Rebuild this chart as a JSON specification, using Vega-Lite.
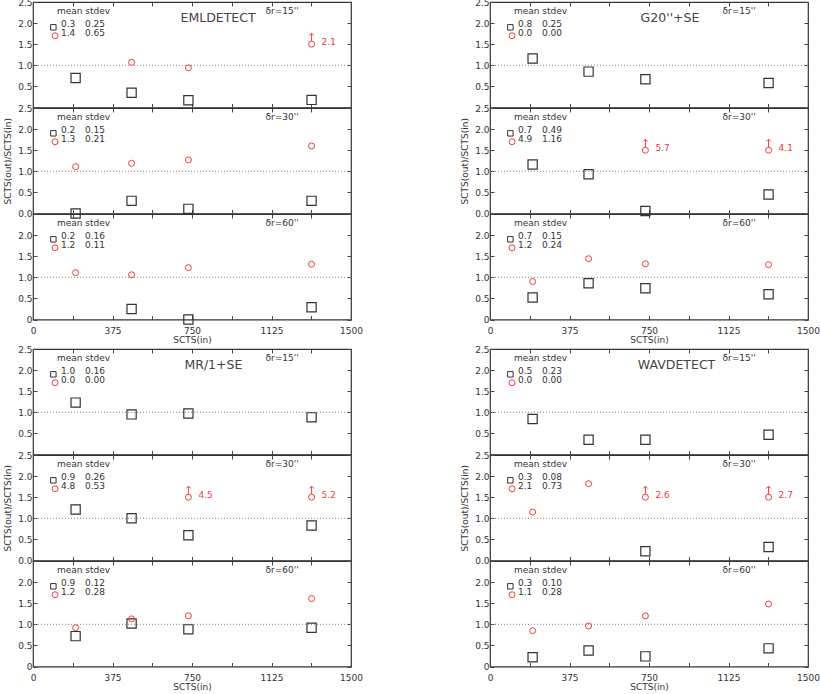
{
"$schema":"https://vega.github.io/schema/vega-lite/v6.json",
"padding":{"left":3,"top":-3,"right":0,"bottom":0},
"config":{
 "font":"DejaVu Sans",
 "view":{"stroke":"#333","strokeWidth":1.2},
 "axis":{"grid":false,"domain":false,"labelFont":"DejaVu Sans","labelFontSize":9,"labelColor":"#333","titleFont":"DejaVu Sans","titleFontSize":9,"titleFontWeight":"normal","titleColor":"#333","tickColor":"#444","labelFlush":false,"labelOverlap":false,"labelBound":false},
 "text":{"font":"DejaVu Sans","fontSize":9,"color":"#333"}
},
"datasets":{"d":[
{"m":"EML","dr":15,"k":"sq","x":201,"y":0.70},{"m":"EML","dr":15,"k":"sq","x":465,"y":0.35},{"m":"EML","dr":15,"k":"sq","x":733,"y":0.17},{"m":"EML","dr":15,"k":"sq","x":1314,"y":0.18},
{"m":"EML","dr":15,"k":"ci","x":465,"y":1.07},{"m":"EML","dr":15,"k":"ci","x":733,"y":0.94},{"m":"EML","dr":15,"k":"up","x":1314,"y":1.5,"t":"2.1"},
{"m":"EML","dr":15,"k":"leg","s":"sq","mean":"0.3","sd":"0.25"},{"m":"EML","dr":15,"k":"leg","s":"ci","mean":"1.4","sd":"0.65"},
{"m":"EML","dr":30,"k":"sq","x":201,"y":0.0},{"m":"EML","dr":30,"k":"sq","x":465,"y":0.30},{"m":"EML","dr":30,"k":"sq","x":733,"y":0.11},{"m":"EML","dr":30,"k":"sq","x":1314,"y":0.30},
{"m":"EML","dr":30,"k":"ci","x":201,"y":1.11},{"m":"EML","dr":30,"k":"ci","x":465,"y":1.19},{"m":"EML","dr":30,"k":"ci","x":733,"y":1.27},{"m":"EML","dr":30,"k":"ci","x":1314,"y":1.60},
{"m":"EML","dr":30,"k":"leg","s":"sq","mean":"0.2","sd":"0.15"},{"m":"EML","dr":30,"k":"leg","s":"ci","mean":"1.3","sd":"0.21"},
{"m":"EML","dr":60,"k":"sq","x":465,"y":0.25},{"m":"EML","dr":60,"k":"sq","x":733,"y":0.0},{"m":"EML","dr":60,"k":"sq","x":1314,"y":0.29},
{"m":"EML","dr":60,"k":"ci","x":201,"y":1.11},{"m":"EML","dr":60,"k":"ci","x":465,"y":1.06},{"m":"EML","dr":60,"k":"ci","x":733,"y":1.23},{"m":"EML","dr":60,"k":"ci","x":1314,"y":1.31},
{"m":"EML","dr":60,"k":"leg","s":"sq","mean":"0.2","sd":"0.16"},{"m":"EML","dr":60,"k":"leg","s":"ci","mean":"1.2","sd":"0.11"},
{"m":"G20","dr":15,"k":"sq","x":201,"y":1.16},{"m":"G20","dr":15,"k":"sq","x":465,"y":0.85},{"m":"G20","dr":15,"k":"sq","x":733,"y":0.67},{"m":"G20","dr":15,"k":"sq","x":1314,"y":0.58},
{"m":"G20","dr":15,"k":"leg","s":"sq","mean":"0.8","sd":"0.25"},{"m":"G20","dr":15,"k":"leg","s":"ci","mean":"0.0","sd":"0.00"},
{"m":"G20","dr":30,"k":"sq","x":201,"y":1.16},{"m":"G20","dr":30,"k":"sq","x":465,"y":0.93},{"m":"G20","dr":30,"k":"sq","x":733,"y":0.06},{"m":"G20","dr":30,"k":"sq","x":1314,"y":0.45},
{"m":"G20","dr":30,"k":"up","x":733,"y":1.5,"t":"5.7"},{"m":"G20","dr":30,"k":"up","x":1314,"y":1.5,"t":"4.1"},
{"m":"G20","dr":30,"k":"leg","s":"sq","mean":"0.7","sd":"0.49"},{"m":"G20","dr":30,"k":"leg","s":"ci","mean":"4.9","sd":"1.16"},
{"m":"G20","dr":60,"k":"sq","x":201,"y":0.52},{"m":"G20","dr":60,"k":"sq","x":465,"y":0.86},{"m":"G20","dr":60,"k":"sq","x":733,"y":0.74},{"m":"G20","dr":60,"k":"sq","x":1314,"y":0.60},
{"m":"G20","dr":60,"k":"ci","x":201,"y":0.90},{"m":"G20","dr":60,"k":"ci","x":465,"y":1.44},{"m":"G20","dr":60,"k":"ci","x":733,"y":1.32},{"m":"G20","dr":60,"k":"ci","x":1314,"y":1.30},
{"m":"G20","dr":60,"k":"leg","s":"sq","mean":"0.7","sd":"0.15"},{"m":"G20","dr":60,"k":"leg","s":"ci","mean":"1.2","sd":"0.24"},
{"m":"MR","dr":15,"k":"sq","x":201,"y":1.23},{"m":"MR","dr":15,"k":"sq","x":465,"y":0.95},{"m":"MR","dr":15,"k":"sq","x":733,"y":0.97},{"m":"MR","dr":15,"k":"sq","x":1314,"y":0.88},
{"m":"MR","dr":15,"k":"leg","s":"sq","mean":"1.0","sd":"0.16"},{"m":"MR","dr":15,"k":"leg","s":"ci","mean":"0.0","sd":"0.00"},
{"m":"MR","dr":30,"k":"sq","x":201,"y":1.21},{"m":"MR","dr":30,"k":"sq","x":465,"y":1.0},{"m":"MR","dr":30,"k":"sq","x":733,"y":0.60},{"m":"MR","dr":30,"k":"sq","x":1314,"y":0.83},
{"m":"MR","dr":30,"k":"up","x":733,"y":1.5,"t":"4.5"},{"m":"MR","dr":30,"k":"up","x":1314,"y":1.5,"t":"5.2"},
{"m":"MR","dr":30,"k":"leg","s":"sq","mean":"0.9","sd":"0.26"},{"m":"MR","dr":30,"k":"leg","s":"ci","mean":"4.8","sd":"0.53"},
{"m":"MR","dr":60,"k":"sq","x":201,"y":0.72},{"m":"MR","dr":60,"k":"sq","x":465,"y":1.02},{"m":"MR","dr":60,"k":"sq","x":733,"y":0.88},{"m":"MR","dr":60,"k":"sq","x":1314,"y":0.92},
{"m":"MR","dr":60,"k":"ci","x":201,"y":0.92},{"m":"MR","dr":60,"k":"ci","x":465,"y":1.13},{"m":"MR","dr":60,"k":"ci","x":733,"y":1.20},{"m":"MR","dr":60,"k":"ci","x":1314,"y":1.61},
{"m":"MR","dr":60,"k":"leg","s":"sq","mean":"0.9","sd":"0.12"},{"m":"MR","dr":60,"k":"leg","s":"ci","mean":"1.2","sd":"0.28"},
{"m":"WAV","dr":15,"k":"sq","x":201,"y":0.84},{"m":"WAV","dr":15,"k":"sq","x":465,"y":0.35},{"m":"WAV","dr":15,"k":"sq","x":733,"y":0.35},{"m":"WAV","dr":15,"k":"sq","x":1314,"y":0.47},
{"m":"WAV","dr":15,"k":"leg","s":"sq","mean":"0.5","sd":"0.23"},{"m":"WAV","dr":15,"k":"leg","s":"ci","mean":"0.0","sd":"0.00"},
{"m":"WAV","dr":30,"k":"sq","x":733,"y":0.22},{"m":"WAV","dr":30,"k":"sq","x":1314,"y":0.32},
{"m":"WAV","dr":30,"k":"ci","x":201,"y":1.15},{"m":"WAV","dr":30,"k":"ci","x":465,"y":1.82},
{"m":"WAV","dr":30,"k":"up","x":733,"y":1.5,"t":"2.6"},{"m":"WAV","dr":30,"k":"up","x":1314,"y":1.5,"t":"2.7"},
{"m":"WAV","dr":30,"k":"leg","s":"sq","mean":"0.3","sd":"0.08"},{"m":"WAV","dr":30,"k":"leg","s":"ci","mean":"2.1","sd":"0.73"},
{"m":"WAV","dr":60,"k":"sq","x":201,"y":0.22},{"m":"WAV","dr":60,"k":"sq","x":465,"y":0.38},{"m":"WAV","dr":60,"k":"sq","x":733,"y":0.24},{"m":"WAV","dr":60,"k":"sq","x":1314,"y":0.43},
{"m":"WAV","dr":60,"k":"ci","x":201,"y":0.85},{"m":"WAV","dr":60,"k":"ci","x":465,"y":0.96},{"m":"WAV","dr":60,"k":"ci","x":733,"y":1.20},{"m":"WAV","dr":60,"k":"ci","x":1314,"y":1.48},
{"m":"WAV","dr":60,"k":"leg","s":"sq","mean":"0.3","sd":"0.10"},{"m":"WAV","dr":60,"k":"leg","s":"ci","mean":"1.1","sd":"0.28"}
]},
"data":{"name":"d"},
"spacing":-2,
"vconcat":[
{"spacing":96,"hconcat":[
 {"spacing":0,"bounds":"flush","vconcat":[
  {"width":318,"height":105.5,"transform":[{"filter":"datum.m=='EML' && datum.dr==15"}],"layer":[
   {"transform":[{"filter":"datum.k=='leg' && datum.s=='sq'"}],"mark":{"type":"rule","color":"#888","strokeDash":[1,2],"strokeWidth":1},"encoding":{"y":{"datum":1,"axis":null}}},
   {"transform":[{"filter":"datum.k=='sq'"}],"mark":{"type":"point","shape":"square","size":85,"filled":false,"color":"#333","strokeWidth":1.2,"opacity":1},"encoding":{
     "x":{"field":"x","type":"quantitative","scale":{"domain":[0,1500],"nice":false,"zero":false},"axis":{"orient":"bottom","values":[0,187.5,375,562.5,750,937.5,1125,1312.5,1500],"labels":false,"tickSize":-4,"title":null}},
     "y":{"field":"y","type":"quantitative","scale":{"domain":[0,2.5],"nice":false,"zero":false},"axis":{"orient":"left","values":[0,0.5,1,1.5,2,2.5],"labelExpr":"datum.value==0?'':format(datum.value,'.1f')","tickSize":-4,"labelPadding":5,"title":null}}}},
   {"transform":[{"filter":"datum.k=='ci' || datum.k=='up'"}],"mark":{"type":"point","shape":"circle","size":36,"filled":false,"color":"#f03c3c","strokeWidth":1,"opacity":1},"encoding":{
     "x":{"field":"x","type":"quantitative","axis":{"orient":"top","values":[0,187.5,375,562.5,750,937.5,1125,1312.5,1500],"labels":false,"tickSize":-4,"title":null}},
     "y":{"field":"y","type":"quantitative","axis":{"orient":"right","values":[0,0.5,1,1.5,2,2.5],"labels":false,"tickSize":-4,"title":null}}}},
   {"transform":[{"filter":"datum.k=='up'"}],"mark":{"type":"point","shape":"M0,1L0,-1M-0.55,-0.45L0,-1L0.55,-0.45","size":64,"filled":false,"color":"#f03c3c","strokeWidth":1,"opacity":1,"yOffset":-7},"encoding":{"x":{"field":"x","type":"quantitative","axis":null},"y":{"field":"y","type":"quantitative","axis":null}}},
   {"transform":[{"filter":"datum.k=='up'"}],"mark":{"type":"text","align":"left","dx":10,"dy":-2,"color":"#f03c3c"},"encoding":{"x":{"field":"x","type":"quantitative","axis":null},"y":{"field":"y","type":"quantitative","axis":null},"text":{"field":"t"}}},
   {"transform":[{"filter":"datum.k=='leg' && datum.s=='sq'"}],"layer":[
     {"mark":{"type":"point","shape":"square","size":30,"filled":false,"color":"#333","strokeWidth":1,"opacity":1},"encoding":{"x":{"datum":96,"axis":null},"y":{"datum":1.9,"axis":null}}},
     {"mark":{"type":"text","align":"left"},"encoding":{"x":{"datum":132,"axis":null},"y":{"datum":1.98,"axis":null},"text":{"field":"mean"}}},
     {"mark":{"type":"text","align":"left"},"encoding":{"x":{"datum":245,"axis":null},"y":{"datum":1.98,"axis":null},"text":{"field":"sd"}}},
     {"mark":{"type":"text","align":"left"},"encoding":{"x":{"datum":113,"axis":null},"y":{"datum":2.28,"axis":null},"text":{"value":"mean stdev"}}},
     {"mark":{"type":"text","align":"center"},"encoding":{"x":{"datum":1175,"axis":null},"y":{"datum":2.28,"axis":null},"text":{"value":"δr=15''"}}},
     {"mark":{"type":"text","align":"center","fontSize":12.5,"color":"#444"},"encoding":{"x":{"datum":873,"axis":null},"y":{"datum":2.12,"axis":null},"text":{"value":"EMLDETECT"}}}
   ]},
   {"transform":[{"filter":"datum.k=='leg' && datum.s=='ci'"}],"layer":[
     {"mark":{"type":"point","shape":"circle","size":36,"filled":false,"color":"#f03c3c","strokeWidth":1,"opacity":1},"encoding":{"x":{"datum":104,"axis":null},"y":{"datum":1.7,"axis":null}}},
     {"mark":{"type":"text","align":"left"},"encoding":{"x":{"datum":132,"axis":null},"y":{"datum":1.77,"axis":null},"text":{"field":"mean"}}},
     {"mark":{"type":"text","align":"left"},"encoding":{"x":{"datum":245,"axis":null},"y":{"datum":1.77,"axis":null},"text":{"field":"sd"}}}
   ]}
  ]},
  {"width":318,"height":105.5,"transform":[{"filter":"datum.m=='EML' && datum.dr==30"}],"layer":[
   {"transform":[{"filter":"datum.k=='leg' && datum.s=='sq'"}],"mark":{"type":"rule","color":"#888","strokeDash":[1,2],"strokeWidth":1},"encoding":{"y":{"datum":1,"axis":null}}},
   {"transform":[{"filter":"datum.k=='sq'"}],"mark":{"type":"point","shape":"square","size":85,"filled":false,"color":"#333","strokeWidth":1.2,"opacity":1},"encoding":{
     "x":{"field":"x","type":"quantitative","scale":{"domain":[0,1500],"nice":false,"zero":false},"axis":{"orient":"bottom","values":[0,187.5,375,562.5,750,937.5,1125,1312.5,1500],"labels":false,"tickSize":-4,"title":null}},
     "y":{"field":"y","type":"quantitative","scale":{"domain":[0,2.5],"nice":false,"zero":false},"axis":{"orient":"left","values":[0,0.5,1,1.5,2,2.5],"labelExpr":"format(datum.value,'.1f')","tickSize":-4,"labelPadding":5,"title":"SCTS(out)/SCTS(in)","titlePadding":5}}}},
   {"transform":[{"filter":"datum.k=='ci' || datum.k=='up'"}],"mark":{"type":"point","shape":"circle","size":36,"filled":false,"color":"#f03c3c","strokeWidth":1,"opacity":1},"encoding":{
     "x":{"field":"x","type":"quantitative","axis":{"orient":"top","values":[0,187.5,375,562.5,750,937.5,1125,1312.5,1500],"labels":false,"tickSize":-4,"title":null}},
     "y":{"field":"y","type":"quantitative","axis":{"orient":"right","values":[0,0.5,1,1.5,2,2.5],"labels":false,"tickSize":-4,"title":null}}}},
   {"transform":[{"filter":"datum.k=='up'"}],"mark":{"type":"point","shape":"M0,1L0,-1M-0.55,-0.45L0,-1L0.55,-0.45","size":64,"filled":false,"color":"#f03c3c","strokeWidth":1,"opacity":1,"yOffset":-7},"encoding":{"x":{"field":"x","type":"quantitative","axis":null},"y":{"field":"y","type":"quantitative","axis":null}}},
   {"transform":[{"filter":"datum.k=='up'"}],"mark":{"type":"text","align":"left","dx":10,"dy":-2,"color":"#f03c3c"},"encoding":{"x":{"field":"x","type":"quantitative","axis":null},"y":{"field":"y","type":"quantitative","axis":null},"text":{"field":"t"}}},
   {"transform":[{"filter":"datum.k=='leg' && datum.s=='sq'"}],"layer":[
     {"mark":{"type":"point","shape":"square","size":30,"filled":false,"color":"#333","strokeWidth":1,"opacity":1},"encoding":{"x":{"datum":96,"axis":null},"y":{"datum":1.9,"axis":null}}},
     {"mark":{"type":"text","align":"left"},"encoding":{"x":{"datum":132,"axis":null},"y":{"datum":1.98,"axis":null},"text":{"field":"mean"}}},
     {"mark":{"type":"text","align":"left"},"encoding":{"x":{"datum":245,"axis":null},"y":{"datum":1.98,"axis":null},"text":{"field":"sd"}}},
     {"mark":{"type":"text","align":"left"},"encoding":{"x":{"datum":113,"axis":null},"y":{"datum":2.28,"axis":null},"text":{"value":"mean stdev"}}},
     {"mark":{"type":"text","align":"center"},"encoding":{"x":{"datum":1175,"axis":null},"y":{"datum":2.28,"axis":null},"text":{"value":"δr=30''"}}}
   ]},
   {"transform":[{"filter":"datum.k=='leg' && datum.s=='ci'"}],"layer":[
     {"mark":{"type":"point","shape":"circle","size":36,"filled":false,"color":"#f03c3c","strokeWidth":1,"opacity":1},"encoding":{"x":{"datum":104,"axis":null},"y":{"datum":1.7,"axis":null}}},
     {"mark":{"type":"text","align":"left"},"encoding":{"x":{"datum":132,"axis":null},"y":{"datum":1.77,"axis":null},"text":{"field":"mean"}}},
     {"mark":{"type":"text","align":"left"},"encoding":{"x":{"datum":245,"axis":null},"y":{"datum":1.77,"axis":null},"text":{"field":"sd"}}}
   ]}
  ]},
  {"width":318,"height":105.5,"transform":[{"filter":"datum.m=='EML' && datum.dr==60"}],"layer":[
   {"transform":[{"filter":"datum.k=='leg' && datum.s=='sq'"}],"mark":{"type":"rule","color":"#888","strokeDash":[1,2],"strokeWidth":1},"encoding":{"y":{"datum":1,"axis":null}}},
   {"transform":[{"filter":"datum.k=='sq'"}],"mark":{"type":"point","shape":"square","size":85,"filled":false,"color":"#333","strokeWidth":1.2,"opacity":1},"encoding":{
     "x":{"field":"x","type":"quantitative","scale":{"domain":[0,1500],"nice":false,"zero":false},"axis":{"orient":"bottom","values":[0,187.5,375,562.5,750,937.5,1125,1312.5,1500],"labelExpr":"datum.value % 375 == 0 ? format(datum.value,'d') : ''","tickSize":-4,"labelPadding":11,"title":"SCTS(in)","titlePadding":0}},
     "y":{"field":"y","type":"quantitative","scale":{"domain":[0,2.5],"nice":false,"zero":false},"axis":{"orient":"left","values":[0,0.5,1,1.5,2,2.5],"labelExpr":"datum.value==2.5?'':datum.value==0?'0':format(datum.value,'.1f')","tickSize":-4,"labelPadding":5,"title":null}}}},
   {"transform":[{"filter":"datum.k=='ci' || datum.k=='up'"}],"mark":{"type":"point","shape":"circle","size":36,"filled":false,"color":"#f03c3c","strokeWidth":1,"opacity":1},"encoding":{
     "x":{"field":"x","type":"quantitative","axis":{"orient":"top","values":[0,187.5,375,562.5,750,937.5,1125,1312.5,1500],"labels":false,"tickSize":-4,"title":null}},
     "y":{"field":"y","type":"quantitative","axis":{"orient":"right","values":[0,0.5,1,1.5,2,2.5],"labels":false,"tickSize":-4,"title":null}}}},
   {"transform":[{"filter":"datum.k=='leg' && datum.s=='sq'"}],"layer":[
     {"mark":{"type":"point","shape":"square","size":30,"filled":false,"color":"#333","strokeWidth":1,"opacity":1},"encoding":{"x":{"datum":96,"axis":null},"y":{"datum":1.9,"axis":null}}},
     {"mark":{"type":"text","align":"left"},"encoding":{"x":{"datum":132,"axis":null},"y":{"datum":1.98,"axis":null},"text":{"field":"mean"}}},
     {"mark":{"type":"text","align":"left"},"encoding":{"x":{"datum":245,"axis":null},"y":{"datum":1.98,"axis":null},"text":{"field":"sd"}}},
     {"mark":{"type":"text","align":"left"},"encoding":{"x":{"datum":113,"axis":null},"y":{"datum":2.28,"axis":null},"text":{"value":"mean stdev"}}},
     {"mark":{"type":"text","align":"center"},"encoding":{"x":{"datum":1175,"axis":null},"y":{"datum":2.28,"axis":null},"text":{"value":"δr=60''"}}}
   ]},
   {"transform":[{"filter":"datum.k=='leg' && datum.s=='ci'"}],"layer":[
     {"mark":{"type":"point","shape":"circle","size":36,"filled":false,"color":"#f03c3c","strokeWidth":1,"opacity":1},"encoding":{"x":{"datum":104,"axis":null},"y":{"datum":1.7,"axis":null}}},
     {"mark":{"type":"text","align":"left"},"encoding":{"x":{"datum":132,"axis":null},"y":{"datum":1.77,"axis":null},"text":{"field":"mean"}}},
     {"mark":{"type":"text","align":"left"},"encoding":{"x":{"datum":245,"axis":null},"y":{"datum":1.77,"axis":null},"text":{"field":"sd"}}}
   ]}
  ]}
 ]},
 {"spacing":0,"bounds":"flush","vconcat":[
  {"width":318,"height":105.5,"transform":[{"filter":"datum.m=='G20' && datum.dr==15"}],"layer":[
   {"transform":[{"filter":"datum.k=='leg' && datum.s=='sq'"}],"mark":{"type":"rule","color":"#888","strokeDash":[1,2],"strokeWidth":1},"encoding":{"y":{"datum":1,"axis":null}}},
   {"transform":[{"filter":"datum.k=='sq'"}],"mark":{"type":"point","shape":"square","size":85,"filled":false,"color":"#333","strokeWidth":1.2,"opacity":1},"encoding":{
     "x":{"field":"x","type":"quantitative","scale":{"domain":[0,1500],"nice":false,"zero":false},"axis":{"orient":"bottom","values":[0,187.5,375,562.5,750,937.5,1125,1312.5,1500],"labels":false,"tickSize":-4,"title":null}},
     "y":{"field":"y","type":"quantitative","scale":{"domain":[0,2.5],"nice":false,"zero":false},"axis":{"orient":"left","values":[0,0.5,1,1.5,2,2.5],"labelExpr":"datum.value==0?'':format(datum.value,'.1f')","tickSize":-4,"labelPadding":5,"title":null}}}},
   {"transform":[{"filter":"datum.k=='ci' || datum.k=='up'"}],"mark":{"type":"point","shape":"circle","size":36,"filled":false,"color":"#f03c3c","strokeWidth":1,"opacity":1},"encoding":{
     "x":{"field":"x","type":"quantitative","axis":{"orient":"top","values":[0,187.5,375,562.5,750,937.5,1125,1312.5,1500],"labels":false,"tickSize":-4,"title":null}},
     "y":{"field":"y","type":"quantitative","axis":{"orient":"right","values":[0,0.5,1,1.5,2,2.5],"labels":false,"tickSize":-4,"title":null}}}},
   {"transform":[{"filter":"datum.k=='leg' && datum.s=='sq'"}],"layer":[
     {"mark":{"type":"point","shape":"square","size":30,"filled":false,"color":"#333","strokeWidth":1,"opacity":1},"encoding":{"x":{"datum":96,"axis":null},"y":{"datum":1.9,"axis":null}}},
     {"mark":{"type":"text","align":"left"},"encoding":{"x":{"datum":132,"axis":null},"y":{"datum":1.98,"axis":null},"text":{"field":"mean"}}},
     {"mark":{"type":"text","align":"left"},"encoding":{"x":{"datum":245,"axis":null},"y":{"datum":1.98,"axis":null},"text":{"field":"sd"}}},
     {"mark":{"type":"text","align":"left"},"encoding":{"x":{"datum":113,"axis":null},"y":{"datum":2.28,"axis":null},"text":{"value":"mean stdev"}}},
     {"mark":{"type":"text","align":"center"},"encoding":{"x":{"datum":1175,"axis":null},"y":{"datum":2.28,"axis":null},"text":{"value":"δr=15''"}}},
     {"mark":{"type":"text","align":"center","fontSize":12.5,"color":"#444"},"encoding":{"x":{"datum":849,"axis":null},"y":{"datum":2.12,"axis":null},"text":{"value":"G20''+SE"}}}
   ]},
   {"transform":[{"filter":"datum.k=='leg' && datum.s=='ci'"}],"layer":[
     {"mark":{"type":"point","shape":"circle","size":36,"filled":false,"color":"#f03c3c","strokeWidth":1,"opacity":1},"encoding":{"x":{"datum":104,"axis":null},"y":{"datum":1.7,"axis":null}}},
     {"mark":{"type":"text","align":"left"},"encoding":{"x":{"datum":132,"axis":null},"y":{"datum":1.77,"axis":null},"text":{"field":"mean"}}},
     {"mark":{"type":"text","align":"left"},"encoding":{"x":{"datum":245,"axis":null},"y":{"datum":1.77,"axis":null},"text":{"field":"sd"}}}
   ]}
  ]},
  {"width":318,"height":105.5,"transform":[{"filter":"datum.m=='G20' && datum.dr==30"}],"layer":[
   {"transform":[{"filter":"datum.k=='leg' && datum.s=='sq'"}],"mark":{"type":"rule","color":"#888","strokeDash":[1,2],"strokeWidth":1},"encoding":{"y":{"datum":1,"axis":null}}},
   {"transform":[{"filter":"datum.k=='sq'"}],"mark":{"type":"point","shape":"square","size":85,"filled":false,"color":"#333","strokeWidth":1.2,"opacity":1},"encoding":{
     "x":{"field":"x","type":"quantitative","scale":{"domain":[0,1500],"nice":false,"zero":false},"axis":{"orient":"bottom","values":[0,187.5,375,562.5,750,937.5,1125,1312.5,1500],"labels":false,"tickSize":-4,"title":null}},
     "y":{"field":"y","type":"quantitative","scale":{"domain":[0,2.5],"nice":false,"zero":false},"axis":{"orient":"left","values":[0,0.5,1,1.5,2,2.5],"labelExpr":"format(datum.value,'.1f')","tickSize":-4,"labelPadding":5,"title":"SCTS(out)/SCTS(in)","titlePadding":5}}}},
   {"transform":[{"filter":"datum.k=='ci' || datum.k=='up'"}],"mark":{"type":"point","shape":"circle","size":36,"filled":false,"color":"#f03c3c","strokeWidth":1,"opacity":1},"encoding":{
     "x":{"field":"x","type":"quantitative","axis":{"orient":"top","values":[0,187.5,375,562.5,750,937.5,1125,1312.5,1500],"labels":false,"tickSize":-4,"title":null}},
     "y":{"field":"y","type":"quantitative","axis":{"orient":"right","values":[0,0.5,1,1.5,2,2.5],"labels":false,"tickSize":-4,"title":null}}}},
   {"transform":[{"filter":"datum.k=='up'"}],"mark":{"type":"point","shape":"M0,1L0,-1M-0.55,-0.45L0,-1L0.55,-0.45","size":64,"filled":false,"color":"#f03c3c","strokeWidth":1,"opacity":1,"yOffset":-7},"encoding":{"x":{"field":"x","type":"quantitative","axis":null},"y":{"field":"y","type":"quantitative","axis":null}}},
   {"transform":[{"filter":"datum.k=='up'"}],"mark":{"type":"text","align":"left","dx":10,"dy":-2,"color":"#f03c3c"},"encoding":{"x":{"field":"x","type":"quantitative","axis":null},"y":{"field":"y","type":"quantitative","axis":null},"text":{"field":"t"}}},
   {"transform":[{"filter":"datum.k=='leg' && datum.s=='sq'"}],"layer":[
     {"mark":{"type":"point","shape":"square","size":30,"filled":false,"color":"#333","strokeWidth":1,"opacity":1},"encoding":{"x":{"datum":96,"axis":null},"y":{"datum":1.9,"axis":null}}},
     {"mark":{"type":"text","align":"left"},"encoding":{"x":{"datum":132,"axis":null},"y":{"datum":1.98,"axis":null},"text":{"field":"mean"}}},
     {"mark":{"type":"text","align":"left"},"encoding":{"x":{"datum":245,"axis":null},"y":{"datum":1.98,"axis":null},"text":{"field":"sd"}}},
     {"mark":{"type":"text","align":"left"},"encoding":{"x":{"datum":113,"axis":null},"y":{"datum":2.28,"axis":null},"text":{"value":"mean stdev"}}},
     {"mark":{"type":"text","align":"center"},"encoding":{"x":{"datum":1175,"axis":null},"y":{"datum":2.28,"axis":null},"text":{"value":"δr=30''"}}}
   ]},
   {"transform":[{"filter":"datum.k=='leg' && datum.s=='ci'"}],"layer":[
     {"mark":{"type":"point","shape":"circle","size":36,"filled":false,"color":"#f03c3c","strokeWidth":1,"opacity":1},"encoding":{"x":{"datum":104,"axis":null},"y":{"datum":1.7,"axis":null}}},
     {"mark":{"type":"text","align":"left"},"encoding":{"x":{"datum":132,"axis":null},"y":{"datum":1.77,"axis":null},"text":{"field":"mean"}}},
     {"mark":{"type":"text","align":"left"},"encoding":{"x":{"datum":245,"axis":null},"y":{"datum":1.77,"axis":null},"text":{"field":"sd"}}}
   ]}
  ]},
  {"width":318,"height":105.5,"transform":[{"filter":"datum.m=='G20' && datum.dr==60"}],"layer":[
   {"transform":[{"filter":"datum.k=='leg' && datum.s=='sq'"}],"mark":{"type":"rule","color":"#888","strokeDash":[1,2],"strokeWidth":1},"encoding":{"y":{"datum":1,"axis":null}}},
   {"transform":[{"filter":"datum.k=='sq'"}],"mark":{"type":"point","shape":"square","size":85,"filled":false,"color":"#333","strokeWidth":1.2,"opacity":1},"encoding":{
     "x":{"field":"x","type":"quantitative","scale":{"domain":[0,1500],"nice":false,"zero":false},"axis":{"orient":"bottom","values":[0,187.5,375,562.5,750,937.5,1125,1312.5,1500],"labelExpr":"datum.value % 375 == 0 ? format(datum.value,'d') : ''","tickSize":-4,"labelPadding":11,"title":"SCTS(in)","titlePadding":0}},
     "y":{"field":"y","type":"quantitative","scale":{"domain":[0,2.5],"nice":false,"zero":false},"axis":{"orient":"left","values":[0,0.5,1,1.5,2,2.5],"labelExpr":"datum.value==2.5?'':datum.value==0?'0':format(datum.value,'.1f')","tickSize":-4,"labelPadding":5,"title":null}}}},
   {"transform":[{"filter":"datum.k=='ci' || datum.k=='up'"}],"mark":{"type":"point","shape":"circle","size":36,"filled":false,"color":"#f03c3c","strokeWidth":1,"opacity":1},"encoding":{
     "x":{"field":"x","type":"quantitative","axis":{"orient":"top","values":[0,187.5,375,562.5,750,937.5,1125,1312.5,1500],"labels":false,"tickSize":-4,"title":null}},
     "y":{"field":"y","type":"quantitative","axis":{"orient":"right","values":[0,0.5,1,1.5,2,2.5],"labels":false,"tickSize":-4,"title":null}}}},
   {"transform":[{"filter":"datum.k=='leg' && datum.s=='sq'"}],"layer":[
     {"mark":{"type":"point","shape":"square","size":30,"filled":false,"color":"#333","strokeWidth":1,"opacity":1},"encoding":{"x":{"datum":96,"axis":null},"y":{"datum":1.9,"axis":null}}},
     {"mark":{"type":"text","align":"left"},"encoding":{"x":{"datum":132,"axis":null},"y":{"datum":1.98,"axis":null},"text":{"field":"mean"}}},
     {"mark":{"type":"text","align":"left"},"encoding":{"x":{"datum":245,"axis":null},"y":{"datum":1.98,"axis":null},"text":{"field":"sd"}}},
     {"mark":{"type":"text","align":"left"},"encoding":{"x":{"datum":113,"axis":null},"y":{"datum":2.28,"axis":null},"text":{"value":"mean stdev"}}},
     {"mark":{"type":"text","align":"center"},"encoding":{"x":{"datum":1175,"axis":null},"y":{"datum":2.28,"axis":null},"text":{"value":"δr=60''"}}}
   ]},
   {"transform":[{"filter":"datum.k=='leg' && datum.s=='ci'"}],"layer":[
     {"mark":{"type":"point","shape":"circle","size":36,"filled":false,"color":"#f03c3c","strokeWidth":1,"opacity":1},"encoding":{"x":{"datum":104,"axis":null},"y":{"datum":1.7,"axis":null}}},
     {"mark":{"type":"text","align":"left"},"encoding":{"x":{"datum":132,"axis":null},"y":{"datum":1.77,"axis":null},"text":{"field":"mean"}}},
     {"mark":{"type":"text","align":"left"},"encoding":{"x":{"datum":245,"axis":null},"y":{"datum":1.77,"axis":null},"text":{"field":"sd"}}}
   ]}
  ]}
 ]}
]},
{"spacing":96,"hconcat":[
 {"spacing":0,"bounds":"flush","vconcat":[
  {"width":318,"height":105.5,"transform":[{"filter":"datum.m=='MR' && datum.dr==15"}],"layer":[
   {"transform":[{"filter":"datum.k=='leg' && datum.s=='sq'"}],"mark":{"type":"rule","color":"#888","strokeDash":[1,2],"strokeWidth":1},"encoding":{"y":{"datum":1,"axis":null}}},
   {"transform":[{"filter":"datum.k=='sq'"}],"mark":{"type":"point","shape":"square","size":85,"filled":false,"color":"#333","strokeWidth":1.2,"opacity":1},"encoding":{
     "x":{"field":"x","type":"quantitative","scale":{"domain":[0,1500],"nice":false,"zero":false},"axis":{"orient":"bottom","values":[0,187.5,375,562.5,750,937.5,1125,1312.5,1500],"labels":false,"tickSize":-4,"title":null}},
     "y":{"field":"y","type":"quantitative","scale":{"domain":[0,2.5],"nice":false,"zero":false},"axis":{"orient":"left","values":[0,0.5,1,1.5,2,2.5],"labelExpr":"datum.value==0?'':format(datum.value,'.1f')","tickSize":-4,"labelPadding":5,"title":null}}}},
   {"transform":[{"filter":"datum.k=='ci' || datum.k=='up'"}],"mark":{"type":"point","shape":"circle","size":36,"filled":false,"color":"#f03c3c","strokeWidth":1,"opacity":1},"encoding":{
     "x":{"field":"x","type":"quantitative","axis":{"orient":"top","values":[0,187.5,375,562.5,750,937.5,1125,1312.5,1500],"labels":false,"tickSize":-4,"title":null}},
     "y":{"field":"y","type":"quantitative","axis":{"orient":"right","values":[0,0.5,1,1.5,2,2.5],"labels":false,"tickSize":-4,"title":null}}}},
   {"transform":[{"filter":"datum.k=='leg' && datum.s=='sq'"}],"layer":[
     {"mark":{"type":"point","shape":"square","size":30,"filled":false,"color":"#333","strokeWidth":1,"opacity":1},"encoding":{"x":{"datum":96,"axis":null},"y":{"datum":1.9,"axis":null}}},
     {"mark":{"type":"text","align":"left"},"encoding":{"x":{"datum":132,"axis":null},"y":{"datum":1.98,"axis":null},"text":{"field":"mean"}}},
     {"mark":{"type":"text","align":"left"},"encoding":{"x":{"datum":245,"axis":null},"y":{"datum":1.98,"axis":null},"text":{"field":"sd"}}},
     {"mark":{"type":"text","align":"left"},"encoding":{"x":{"datum":113,"axis":null},"y":{"datum":2.28,"axis":null},"text":{"value":"mean stdev"}}},
     {"mark":{"type":"text","align":"center"},"encoding":{"x":{"datum":1175,"axis":null},"y":{"datum":2.28,"axis":null},"text":{"value":"δr=15''"}}},
     {"mark":{"type":"text","align":"center","fontSize":12.5,"color":"#444"},"encoding":{"x":{"datum":851,"axis":null},"y":{"datum":2.12,"axis":null},"text":{"value":"MR/1+SE"}}}
   ]},
   {"transform":[{"filter":"datum.k=='leg' && datum.s=='ci'"}],"layer":[
     {"mark":{"type":"point","shape":"circle","size":36,"filled":false,"color":"#f03c3c","strokeWidth":1,"opacity":1},"encoding":{"x":{"datum":104,"axis":null},"y":{"datum":1.7,"axis":null}}},
     {"mark":{"type":"text","align":"left"},"encoding":{"x":{"datum":132,"axis":null},"y":{"datum":1.77,"axis":null},"text":{"field":"mean"}}},
     {"mark":{"type":"text","align":"left"},"encoding":{"x":{"datum":245,"axis":null},"y":{"datum":1.77,"axis":null},"text":{"field":"sd"}}}
   ]}
  ]},
  {"width":318,"height":105.5,"transform":[{"filter":"datum.m=='MR' && datum.dr==30"}],"layer":[
   {"transform":[{"filter":"datum.k=='leg' && datum.s=='sq'"}],"mark":{"type":"rule","color":"#888","strokeDash":[1,2],"strokeWidth":1},"encoding":{"y":{"datum":1,"axis":null}}},
   {"transform":[{"filter":"datum.k=='sq'"}],"mark":{"type":"point","shape":"square","size":85,"filled":false,"color":"#333","strokeWidth":1.2,"opacity":1},"encoding":{
     "x":{"field":"x","type":"quantitative","scale":{"domain":[0,1500],"nice":false,"zero":false},"axis":{"orient":"bottom","values":[0,187.5,375,562.5,750,937.5,1125,1312.5,1500],"labels":false,"tickSize":-4,"title":null}},
     "y":{"field":"y","type":"quantitative","scale":{"domain":[0,2.5],"nice":false,"zero":false},"axis":{"orient":"left","values":[0,0.5,1,1.5,2,2.5],"labelExpr":"format(datum.value,'.1f')","tickSize":-4,"labelPadding":5,"title":"SCTS(out)/SCTS(in)","titlePadding":5}}}},
   {"transform":[{"filter":"datum.k=='ci' || datum.k=='up'"}],"mark":{"type":"point","shape":"circle","size":36,"filled":false,"color":"#f03c3c","strokeWidth":1,"opacity":1},"encoding":{
     "x":{"field":"x","type":"quantitative","axis":{"orient":"top","values":[0,187.5,375,562.5,750,937.5,1125,1312.5,1500],"labels":false,"tickSize":-4,"title":null}},
     "y":{"field":"y","type":"quantitative","axis":{"orient":"right","values":[0,0.5,1,1.5,2,2.5],"labels":false,"tickSize":-4,"title":null}}}},
   {"transform":[{"filter":"datum.k=='up'"}],"mark":{"type":"point","shape":"M0,1L0,-1M-0.55,-0.45L0,-1L0.55,-0.45","size":64,"filled":false,"color":"#f03c3c","strokeWidth":1,"opacity":1,"yOffset":-7},"encoding":{"x":{"field":"x","type":"quantitative","axis":null},"y":{"field":"y","type":"quantitative","axis":null}}},
   {"transform":[{"filter":"datum.k=='up'"}],"mark":{"type":"text","align":"left","dx":10,"dy":-2,"color":"#f03c3c"},"encoding":{"x":{"field":"x","type":"quantitative","axis":null},"y":{"field":"y","type":"quantitative","axis":null},"text":{"field":"t"}}},
   {"transform":[{"filter":"datum.k=='leg' && datum.s=='sq'"}],"layer":[
     {"mark":{"type":"point","shape":"square","size":30,"filled":false,"color":"#333","strokeWidth":1,"opacity":1},"encoding":{"x":{"datum":96,"axis":null},"y":{"datum":1.9,"axis":null}}},
     {"mark":{"type":"text","align":"left"},"encoding":{"x":{"datum":132,"axis":null},"y":{"datum":1.98,"axis":null},"text":{"field":"mean"}}},
     {"mark":{"type":"text","align":"left"},"encoding":{"x":{"datum":245,"axis":null},"y":{"datum":1.98,"axis":null},"text":{"field":"sd"}}},
     {"mark":{"type":"text","align":"left"},"encoding":{"x":{"datum":113,"axis":null},"y":{"datum":2.28,"axis":null},"text":{"value":"mean stdev"}}},
     {"mark":{"type":"text","align":"center"},"encoding":{"x":{"datum":1175,"axis":null},"y":{"datum":2.28,"axis":null},"text":{"value":"δr=30''"}}}
   ]},
   {"transform":[{"filter":"datum.k=='leg' && datum.s=='ci'"}],"layer":[
     {"mark":{"type":"point","shape":"circle","size":36,"filled":false,"color":"#f03c3c","strokeWidth":1,"opacity":1},"encoding":{"x":{"datum":104,"axis":null},"y":{"datum":1.7,"axis":null}}},
     {"mark":{"type":"text","align":"left"},"encoding":{"x":{"datum":132,"axis":null},"y":{"datum":1.77,"axis":null},"text":{"field":"mean"}}},
     {"mark":{"type":"text","align":"left"},"encoding":{"x":{"datum":245,"axis":null},"y":{"datum":1.77,"axis":null},"text":{"field":"sd"}}}
   ]}
  ]},
  {"width":318,"height":105.5,"transform":[{"filter":"datum.m=='MR' && datum.dr==60"}],"layer":[
   {"transform":[{"filter":"datum.k=='leg' && datum.s=='sq'"}],"mark":{"type":"rule","color":"#888","strokeDash":[1,2],"strokeWidth":1},"encoding":{"y":{"datum":1,"axis":null}}},
   {"transform":[{"filter":"datum.k=='sq'"}],"mark":{"type":"point","shape":"square","size":85,"filled":false,"color":"#333","strokeWidth":1.2,"opacity":1},"encoding":{
     "x":{"field":"x","type":"quantitative","scale":{"domain":[0,1500],"nice":false,"zero":false},"axis":{"orient":"bottom","values":[0,187.5,375,562.5,750,937.5,1125,1312.5,1500],"labelExpr":"datum.value % 375 == 0 ? format(datum.value,'d') : ''","tickSize":-4,"labelPadding":11,"title":"SCTS(in)","titlePadding":0}},
     "y":{"field":"y","type":"quantitative","scale":{"domain":[0,2.5],"nice":false,"zero":false},"axis":{"orient":"left","values":[0,0.5,1,1.5,2,2.5],"labelExpr":"datum.value==2.5?'':datum.value==0?'0':format(datum.value,'.1f')","tickSize":-4,"labelPadding":5,"title":null}}}},
   {"transform":[{"filter":"datum.k=='ci' || datum.k=='up'"}],"mark":{"type":"point","shape":"circle","size":36,"filled":false,"color":"#f03c3c","strokeWidth":1,"opacity":1},"encoding":{
     "x":{"field":"x","type":"quantitative","axis":{"orient":"top","values":[0,187.5,375,562.5,750,937.5,1125,1312.5,1500],"labels":false,"tickSize":-4,"title":null}},
     "y":{"field":"y","type":"quantitative","axis":{"orient":"right","values":[0,0.5,1,1.5,2,2.5],"labels":false,"tickSize":-4,"title":null}}}},
   {"transform":[{"filter":"datum.k=='leg' && datum.s=='sq'"}],"layer":[
     {"mark":{"type":"point","shape":"square","size":30,"filled":false,"color":"#333","strokeWidth":1,"opacity":1},"encoding":{"x":{"datum":96,"axis":null},"y":{"datum":1.9,"axis":null}}},
     {"mark":{"type":"text","align":"left"},"encoding":{"x":{"datum":132,"axis":null},"y":{"datum":1.98,"axis":null},"text":{"field":"mean"}}},
     {"mark":{"type":"text","align":"left"},"encoding":{"x":{"datum":245,"axis":null},"y":{"datum":1.98,"axis":null},"text":{"field":"sd"}}},
     {"mark":{"type":"text","align":"left"},"encoding":{"x":{"datum":113,"axis":null},"y":{"datum":2.28,"axis":null},"text":{"value":"mean stdev"}}},
     {"mark":{"type":"text","align":"center"},"encoding":{"x":{"datum":1175,"axis":null},"y":{"datum":2.28,"axis":null},"text":{"value":"δr=60''"}}}
   ]},
   {"transform":[{"filter":"datum.k=='leg' && datum.s=='ci'"}],"layer":[
     {"mark":{"type":"point","shape":"circle","size":36,"filled":false,"color":"#f03c3c","strokeWidth":1,"opacity":1},"encoding":{"x":{"datum":104,"axis":null},"y":{"datum":1.7,"axis":null}}},
     {"mark":{"type":"text","align":"left"},"encoding":{"x":{"datum":132,"axis":null},"y":{"datum":1.77,"axis":null},"text":{"field":"mean"}}},
     {"mark":{"type":"text","align":"left"},"encoding":{"x":{"datum":245,"axis":null},"y":{"datum":1.77,"axis":null},"text":{"field":"sd"}}}
   ]}
  ]}
 ]},
 {"spacing":0,"bounds":"flush","vconcat":[
  {"width":318,"height":105.5,"transform":[{"filter":"datum.m=='WAV' && datum.dr==15"}],"layer":[
   {"transform":[{"filter":"datum.k=='leg' && datum.s=='sq'"}],"mark":{"type":"rule","color":"#888","strokeDash":[1,2],"strokeWidth":1},"encoding":{"y":{"datum":1,"axis":null}}},
   {"transform":[{"filter":"datum.k=='sq'"}],"mark":{"type":"point","shape":"square","size":85,"filled":false,"color":"#333","strokeWidth":1.2,"opacity":1},"encoding":{
     "x":{"field":"x","type":"quantitative","scale":{"domain":[0,1500],"nice":false,"zero":false},"axis":{"orient":"bottom","values":[0,187.5,375,562.5,750,937.5,1125,1312.5,1500],"labels":false,"tickSize":-4,"title":null}},
     "y":{"field":"y","type":"quantitative","scale":{"domain":[0,2.5],"nice":false,"zero":false},"axis":{"orient":"left","values":[0,0.5,1,1.5,2,2.5],"labelExpr":"datum.value==0?'':format(datum.value,'.1f')","tickSize":-4,"labelPadding":5,"title":null}}}},
   {"transform":[{"filter":"datum.k=='ci' || datum.k=='up'"}],"mark":{"type":"point","shape":"circle","size":36,"filled":false,"color":"#f03c3c","strokeWidth":1,"opacity":1},"encoding":{
     "x":{"field":"x","type":"quantitative","axis":{"orient":"top","values":[0,187.5,375,562.5,750,937.5,1125,1312.5,1500],"labels":false,"tickSize":-4,"title":null}},
     "y":{"field":"y","type":"quantitative","axis":{"orient":"right","values":[0,0.5,1,1.5,2,2.5],"labels":false,"tickSize":-4,"title":null}}}},
   {"transform":[{"filter":"datum.k=='leg' && datum.s=='sq'"}],"layer":[
     {"mark":{"type":"point","shape":"square","size":30,"filled":false,"color":"#333","strokeWidth":1,"opacity":1},"encoding":{"x":{"datum":96,"axis":null},"y":{"datum":1.9,"axis":null}}},
     {"mark":{"type":"text","align":"left"},"encoding":{"x":{"datum":132,"axis":null},"y":{"datum":1.98,"axis":null},"text":{"field":"mean"}}},
     {"mark":{"type":"text","align":"left"},"encoding":{"x":{"datum":245,"axis":null},"y":{"datum":1.98,"axis":null},"text":{"field":"sd"}}},
     {"mark":{"type":"text","align":"left"},"encoding":{"x":{"datum":113,"axis":null},"y":{"datum":2.28,"axis":null},"text":{"value":"mean stdev"}}},
     {"mark":{"type":"text","align":"center"},"encoding":{"x":{"datum":1175,"axis":null},"y":{"datum":2.28,"axis":null},"text":{"value":"δr=15''"}}},
     {"mark":{"type":"text","align":"center","fontSize":12.5,"color":"#444"},"encoding":{"x":{"datum":880,"axis":null},"y":{"datum":2.12,"axis":null},"text":{"value":"WAVDETECT"}}}
   ]},
   {"transform":[{"filter":"datum.k=='leg' && datum.s=='ci'"}],"layer":[
     {"mark":{"type":"point","shape":"circle","size":36,"filled":false,"color":"#f03c3c","strokeWidth":1,"opacity":1},"encoding":{"x":{"datum":104,"axis":null},"y":{"datum":1.7,"axis":null}}},
     {"mark":{"type":"text","align":"left"},"encoding":{"x":{"datum":132,"axis":null},"y":{"datum":1.77,"axis":null},"text":{"field":"mean"}}},
     {"mark":{"type":"text","align":"left"},"encoding":{"x":{"datum":245,"axis":null},"y":{"datum":1.77,"axis":null},"text":{"field":"sd"}}}
   ]}
  ]},
  {"width":318,"height":105.5,"transform":[{"filter":"datum.m=='WAV' && datum.dr==30"}],"layer":[
   {"transform":[{"filter":"datum.k=='leg' && datum.s=='sq'"}],"mark":{"type":"rule","color":"#888","strokeDash":[1,2],"strokeWidth":1},"encoding":{"y":{"datum":1,"axis":null}}},
   {"transform":[{"filter":"datum.k=='sq'"}],"mark":{"type":"point","shape":"square","size":85,"filled":false,"color":"#333","strokeWidth":1.2,"opacity":1},"encoding":{
     "x":{"field":"x","type":"quantitative","scale":{"domain":[0,1500],"nice":false,"zero":false},"axis":{"orient":"bottom","values":[0,187.5,375,562.5,750,937.5,1125,1312.5,1500],"labels":false,"tickSize":-4,"title":null}},
     "y":{"field":"y","type":"quantitative","scale":{"domain":[0,2.5],"nice":false,"zero":false},"axis":{"orient":"left","values":[0,0.5,1,1.5,2,2.5],"labelExpr":"format(datum.value,'.1f')","tickSize":-4,"labelPadding":5,"title":"SCTS(out)/SCTS(in)","titlePadding":5}}}},
   {"transform":[{"filter":"datum.k=='ci' || datum.k=='up'"}],"mark":{"type":"point","shape":"circle","size":36,"filled":false,"color":"#f03c3c","strokeWidth":1,"opacity":1},"encoding":{
     "x":{"field":"x","type":"quantitative","axis":{"orient":"top","values":[0,187.5,375,562.5,750,937.5,1125,1312.5,1500],"labels":false,"tickSize":-4,"title":null}},
     "y":{"field":"y","type":"quantitative","axis":{"orient":"right","values":[0,0.5,1,1.5,2,2.5],"labels":false,"tickSize":-4,"title":null}}}},
   {"transform":[{"filter":"datum.k=='up'"}],"mark":{"type":"point","shape":"M0,1L0,-1M-0.55,-0.45L0,-1L0.55,-0.45","size":64,"filled":false,"color":"#f03c3c","strokeWidth":1,"opacity":1,"yOffset":-7},"encoding":{"x":{"field":"x","type":"quantitative","axis":null},"y":{"field":"y","type":"quantitative","axis":null}}},
   {"transform":[{"filter":"datum.k=='up'"}],"mark":{"type":"text","align":"left","dx":10,"dy":-2,"color":"#f03c3c"},"encoding":{"x":{"field":"x","type":"quantitative","axis":null},"y":{"field":"y","type":"quantitative","axis":null},"text":{"field":"t"}}},
   {"transform":[{"filter":"datum.k=='leg' && datum.s=='sq'"}],"layer":[
     {"mark":{"type":"point","shape":"square","size":30,"filled":false,"color":"#333","strokeWidth":1,"opacity":1},"encoding":{"x":{"datum":96,"axis":null},"y":{"datum":1.9,"axis":null}}},
     {"mark":{"type":"text","align":"left"},"encoding":{"x":{"datum":132,"axis":null},"y":{"datum":1.98,"axis":null},"text":{"field":"mean"}}},
     {"mark":{"type":"text","align":"left"},"encoding":{"x":{"datum":245,"axis":null},"y":{"datum":1.98,"axis":null},"text":{"field":"sd"}}},
     {"mark":{"type":"text","align":"left"},"encoding":{"x":{"datum":113,"axis":null},"y":{"datum":2.28,"axis":null},"text":{"value":"mean stdev"}}},
     {"mark":{"type":"text","align":"center"},"encoding":{"x":{"datum":1175,"axis":null},"y":{"datum":2.28,"axis":null},"text":{"value":"δr=30''"}}}
   ]},
   {"transform":[{"filter":"datum.k=='leg' && datum.s=='ci'"}],"layer":[
     {"mark":{"type":"point","shape":"circle","size":36,"filled":false,"color":"#f03c3c","strokeWidth":1,"opacity":1},"encoding":{"x":{"datum":104,"axis":null},"y":{"datum":1.7,"axis":null}}},
     {"mark":{"type":"text","align":"left"},"encoding":{"x":{"datum":132,"axis":null},"y":{"datum":1.77,"axis":null},"text":{"field":"mean"}}},
     {"mark":{"type":"text","align":"left"},"encoding":{"x":{"datum":245,"axis":null},"y":{"datum":1.77,"axis":null},"text":{"field":"sd"}}}
   ]}
  ]},
  {"width":318,"height":105.5,"transform":[{"filter":"datum.m=='WAV' && datum.dr==60"}],"layer":[
   {"transform":[{"filter":"datum.k=='leg' && datum.s=='sq'"}],"mark":{"type":"rule","color":"#888","strokeDash":[1,2],"strokeWidth":1},"encoding":{"y":{"datum":1,"axis":null}}},
   {"transform":[{"filter":"datum.k=='sq'"}],"mark":{"type":"point","shape":"square","size":85,"filled":false,"color":"#333","strokeWidth":1.2,"opacity":1},"encoding":{
     "x":{"field":"x","type":"quantitative","scale":{"domain":[0,1500],"nice":false,"zero":false},"axis":{"orient":"bottom","values":[0,187.5,375,562.5,750,937.5,1125,1312.5,1500],"labelExpr":"datum.value % 375 == 0 ? format(datum.value,'d') : ''","tickSize":-4,"labelPadding":11,"title":"SCTS(in)","titlePadding":0}},
     "y":{"field":"y","type":"quantitative","scale":{"domain":[0,2.5],"nice":false,"zero":false},"axis":{"orient":"left","values":[0,0.5,1,1.5,2,2.5],"labelExpr":"datum.value==2.5?'':datum.value==0?'0':format(datum.value,'.1f')","tickSize":-4,"labelPadding":5,"title":null}}}},
   {"transform":[{"filter":"datum.k=='ci' || datum.k=='up'"}],"mark":{"type":"point","shape":"circle","size":36,"filled":false,"color":"#f03c3c","strokeWidth":1,"opacity":1},"encoding":{
     "x":{"field":"x","type":"quantitative","axis":{"orient":"top","values":[0,187.5,375,562.5,750,937.5,1125,1312.5,1500],"labels":false,"tickSize":-4,"title":null}},
     "y":{"field":"y","type":"quantitative","axis":{"orient":"right","values":[0,0.5,1,1.5,2,2.5],"labels":false,"tickSize":-4,"title":null}}}},
   {"transform":[{"filter":"datum.k=='leg' && datum.s=='sq'"}],"layer":[
     {"mark":{"type":"point","shape":"square","size":30,"filled":false,"color":"#333","strokeWidth":1,"opacity":1},"encoding":{"x":{"datum":96,"axis":null},"y":{"datum":1.9,"axis":null}}},
     {"mark":{"type":"text","align":"left"},"encoding":{"x":{"datum":132,"axis":null},"y":{"datum":1.98,"axis":null},"text":{"field":"mean"}}},
     {"mark":{"type":"text","align":"left"},"encoding":{"x":{"datum":245,"axis":null},"y":{"datum":1.98,"axis":null},"text":{"field":"sd"}}},
     {"mark":{"type":"text","align":"left"},"encoding":{"x":{"datum":113,"axis":null},"y":{"datum":2.28,"axis":null},"text":{"value":"mean stdev"}}},
     {"mark":{"type":"text","align":"center"},"encoding":{"x":{"datum":1175,"axis":null},"y":{"datum":2.28,"axis":null},"text":{"value":"δr=60''"}}}
   ]},
   {"transform":[{"filter":"datum.k=='leg' && datum.s=='ci'"}],"layer":[
     {"mark":{"type":"point","shape":"circle","size":36,"filled":false,"color":"#f03c3c","strokeWidth":1,"opacity":1},"encoding":{"x":{"datum":104,"axis":null},"y":{"datum":1.7,"axis":null}}},
     {"mark":{"type":"text","align":"left"},"encoding":{"x":{"datum":132,"axis":null},"y":{"datum":1.77,"axis":null},"text":{"field":"mean"}}},
     {"mark":{"type":"text","align":"left"},"encoding":{"x":{"datum":245,"axis":null},"y":{"datum":1.77,"axis":null},"text":{"field":"sd"}}}
   ]}
  ]}
 ]}
]}
]
}
